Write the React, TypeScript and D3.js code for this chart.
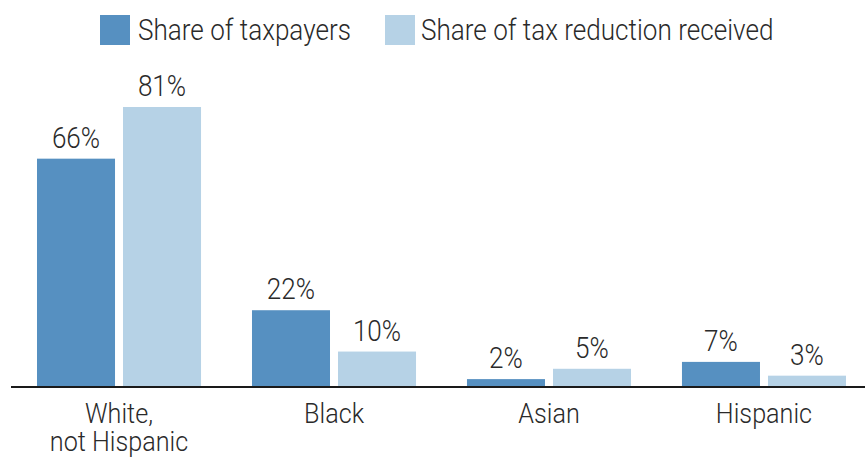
import React from "react";
import * as d3 from "d3";

const categories = ["White, not Hispanic", "Black", "Asian", "Hispanic"];
const categoryLines = [["White,", "not Hispanic"], ["Black"], ["Asian"], ["Hispanic"]];
const seriesNames = ["Share of taxpayers", "Share of tax reduction received"];
const taxpayers = [66, 22, 2, 7];
const reduction = [81, 10, 5, 3];
const colors = ["#5690c1", "#b6d2e6"];

const W = 865;
const H = 458;
const FONT = "'Roboto', 'Liberation Sans', sans-serif";
const SX = 0.9;

function T({ x, y, anchor = "start", size = 29, children }: { x: number; y: number; anchor?: string; size?: number; children: React.ReactNode }) {
  return (
    <text transform={`translate(${x},${y}) scale(${SX},1)`} textAnchor={anchor} fontSize={size} fontWeight={300} fill="#2a2a2a">
      {children}
    </text>
  );
}

export default function App() {
  const baseY = 386;
  const x = d3.scaleBand<string>().domain(categories).range([11.5, 871.5]).paddingInner(0.237).paddingOuter(0.1186);
  const xs = d3.scaleBand<string>().domain(seriesNames).range([0, x.bandwidth()]).paddingInner(0.093).paddingOuter(0);
  const y = d3.scaleLinear().domain([0, 81]).range([baseY, 107]);
  const series = [taxpayers, reduction];

  return (
    <svg width={W} height={H} style={{ position: "absolute", left: 0, top: 0, background: "#fff" }} fontFamily={FONT}>
      {/* legend */}
      <rect x={100} y={15} width={30} height={30} fill={colors[0]} />
      <T x={138} y={40}>{seriesNames[0]}</T>
      <rect x={385} y={15} width={30} height={30} fill={colors[1]} />
      <T x={421} y={40}>{seriesNames[1]}</T>

      {categories.map((c, i) => (
        <g key={c} transform={`translate(${x(c)},0)`}>
          {seriesNames.map((s, j) => {
            const v = series[j][i];
            const bx = xs(s)!;
            return (
              <g key={s}>
                <rect x={bx} y={y(v)} width={xs.bandwidth()} height={baseY - y(v)} fill={colors[j]} />
                <T x={bx + xs.bandwidth() / 2} y={y(v) - 11} anchor="middle">{v}%</T>
              </g>
            );
          })}
          {categoryLines[i].map((l, k) => (
            <T key={k} x={x.bandwidth() / 2} y={423 + k * 28} anchor="middle" size={28}>{l}</T>
          ))}
        </g>
      ))}
      <line x1={11} x2={865} y1={baseY + 1} y2={baseY + 1} stroke="#1a1a1a" strokeWidth={2} />
    </svg>
  );
}
